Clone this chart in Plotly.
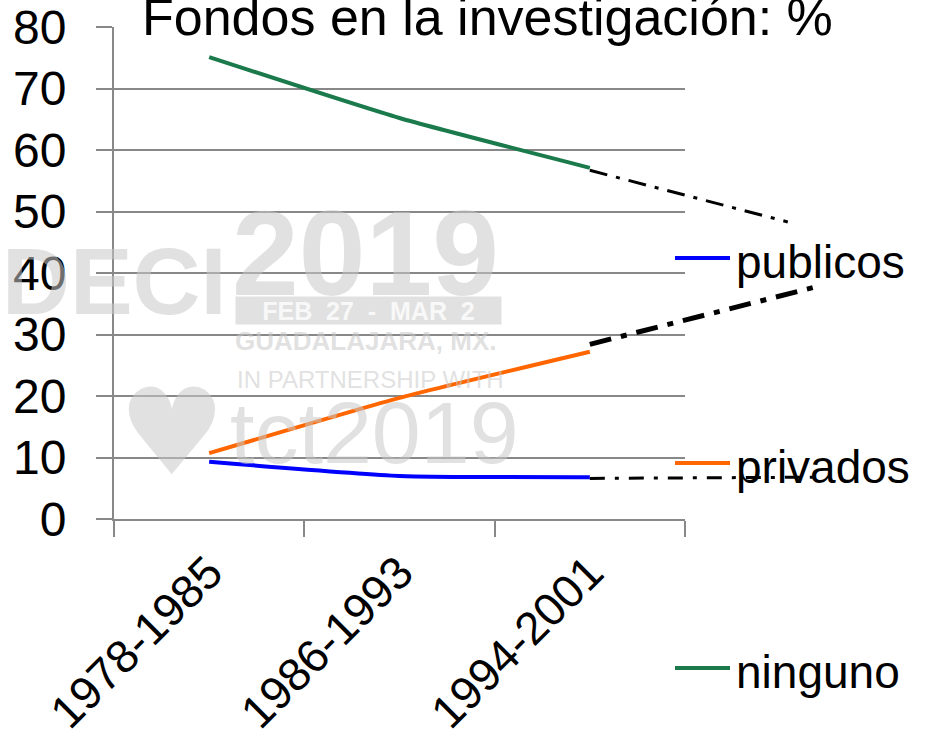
import plotly.graph_objects as go

# ---------------- data ----------------
categories = ["1978-1985", "1986-1993", "1994-2001"]
publicos = [9.3, 7.0, 6.8]
privados = [10.7, 19.7, 27.2]
ninguno = [75.1, 65.2, 57.1]

# dashed projections beyond the last period (x in category-index units)
proj_x_end = {"ninguno": 3.04, "privados": 3.22, "publicos": 3.2}
ninguno_proj = [56.7, 48.3]
privados_proj = [28.4, 38.0]
publicos_proj = [6.6, 6.8]

y_ticks = [0, 10, 20, 30, 40, 50, 60, 70, 80]
title_text = "Fondos en la investigación: %"

# ---------------- geometry ----------------
W, H = 932, 744
L, T = 114, 27
PLOT_R = 880          # right edge of the (invisible) extended area
MAIN_R = 685          # right edge of the visible axis
B = 519
PW = PLOT_R - L
PH = B - T
MAIN_FRAC = (MAIN_R - L) / PW
unit_px = (MAIN_R - L) / 3.0
x2_range = [-0.5, -0.5 + PW / unit_px]

def px(X):
    return (X - L) / PW

def py(Y):
    return (B - Y) / PH

FONT = "Liberation Sans, Arial, sans-serif"
WM = "Liberation Sans, Arial, sans-serif"
GRID = "#888888"
C_PUB, C_PRI, C_NIN = "#0000ff", "#ff6600", "#1a7a4c"

fig = go.Figure()

line_common = dict(width=4, shape="spline", smoothing=0.5)
fig.add_trace(go.Scatter(x=categories, y=publicos, name="publicos", mode="lines",
                         line=dict(color=C_PUB, **line_common), xaxis="x", yaxis="y"))
fig.add_trace(go.Scatter(x=categories, y=privados, name="privados", mode="lines",
                         line=dict(color=C_PRI, **line_common), xaxis="x", yaxis="y"))
fig.add_trace(go.Scatter(x=categories, y=ninguno, name="ninguno", mode="lines",
                         line=dict(color=C_NIN, **line_common), xaxis="x", yaxis="y"))

# projections on an extended, hidden axis pair
fig.add_trace(go.Scatter(x=[2, proj_x_end["ninguno"]], y=ninguno_proj, mode="lines",
                         line=dict(color="black", width=3, dash="18px,9px,4px,9px"),
                         xaxis="x2", yaxis="y2", showlegend=False))
fig.add_trace(go.Scatter(x=[2, proj_x_end["privados"]], y=privados_proj, mode="lines",
                         line=dict(color="black", width=5, dash="22px,10px,6px,10px"),
                         xaxis="x2", yaxis="y2", showlegend=False))
fig.add_trace(go.Scatter(x=[2, proj_x_end["publicos"]], y=publicos_proj, mode="lines",
                         line=dict(color="black", width=3, dash="15px,10px,4px,10px"),
                         xaxis="x2", yaxis="y2", showlegend=False))

annotations = []
shapes = []

# title (cut at the top like the original)
annotations.append(dict(text=title_text, x=px(487), y=py(17), xref="paper", yref="paper",
                        xanchor="center", yanchor="middle", showarrow=False,
                        font=dict(family=FONT, size=52, color="black")))

# manual legend
legend_items = [("publicos", C_PUB, 258), ("privados", C_PRI, 463), ("ninguno", C_NIN, 668)]
for name, col, yy in legend_items:
    shapes.append(dict(type="line", xref="paper", yref="paper",
                       x0=px(675), x1=px(730), y0=py(yy), y1=py(yy),
                       line=dict(color=col, width=4)))
    annotations.append(dict(text=name, x=px(734), y=py(yy + 4), xref="paper", yref="paper",
                            xanchor="left", yanchor="middle", showarrow=False,
                            font=dict(family=FONT, size=46, color="black")))

# watermark
wm_col = "rgba(200,200,200,0.55)"
def wm(text, X, Y, size, bold=True, family=WM, anchor="left", **kw):
    d = dict(text=(f"<b>{text}</b>" if bold else text), x=px(X), y=py(Y),
             xref="paper", yref="paper", xanchor=anchor, yanchor="middle",
             showarrow=False, font=dict(family=family, size=size, color=wm_col))
    d.update(kw)
    annotations.append(d)

wm("DECI", 0, 281, 94)
wm("2019", 230, 253, 120)
annotations.append(dict(text="<b>FEB  27  -  MAR  2</b>", x=px(235), y=py(311),
                        xref="paper", yref="paper", xanchor="left", yanchor="middle",
                        showarrow=False, width=265, height=27, borderpad=0,
                        bgcolor=wm_col, font=dict(family=WM, size=25, color="rgba(255,255,255,0.8)")))
wm("GUADALAJARA, MX.", 233, 341, 26)
wm("IN PARTNERSHIP WITH", 235, 379, 24, bold=False)
wm("tct2019", 228, 432, 88, bold=False)
wm("\u2665", 172, 432, 120, bold=False, family="DejaVu Sans", anchor="center")

fig.update_layout(
    width=W, height=H,
    margin=dict(l=L, r=W - PLOT_R, t=T, b=H - B, pad=0, autoexpand=False),
    paper_bgcolor="white", plot_bgcolor="rgba(0,0,0,0)",
    showlegend=False,
    annotations=annotations, shapes=shapes,
    xaxis=dict(type="category", domain=[0, MAIN_FRAC], range=[-0.5, 2.5], automargin=False,
               tickson="boundaries", ticks="outside", ticklen=16, tickwidth=2, tickcolor=GRID,
               showline=True, linecolor=GRID, linewidth=2, showgrid=False, zeroline=False,
               tickangle=-45, ticklabelstandoff=6,
               tickfont=dict(family=FONT, size=46, color="black"), anchor="y"),
    yaxis=dict(range=[0, 80], tickvals=y_ticks, ticks="outside", ticklen=16, tickwidth=2,
               automargin=False,
               tickcolor=GRID, showline=True, linecolor=GRID, linewidth=2,
               showgrid=True, gridcolor=GRID, gridwidth=1.5, zeroline=False,
               ticklabelstandoff=20,
               tickfont=dict(family=FONT, size=48, color="black"), anchor="x"),
    xaxis2=dict(domain=[0, 1], range=x2_range, visible=False, anchor="y2", automargin=False),
    yaxis2=dict(domain=[0, 1], range=[0, 80], visible=False, anchor="x2", automargin=False),
)

fig.write_html("out.html", config={"displayModeBar": False},
               post_script="document.body.style.margin='0';document.body.style.overflow='hidden';")
